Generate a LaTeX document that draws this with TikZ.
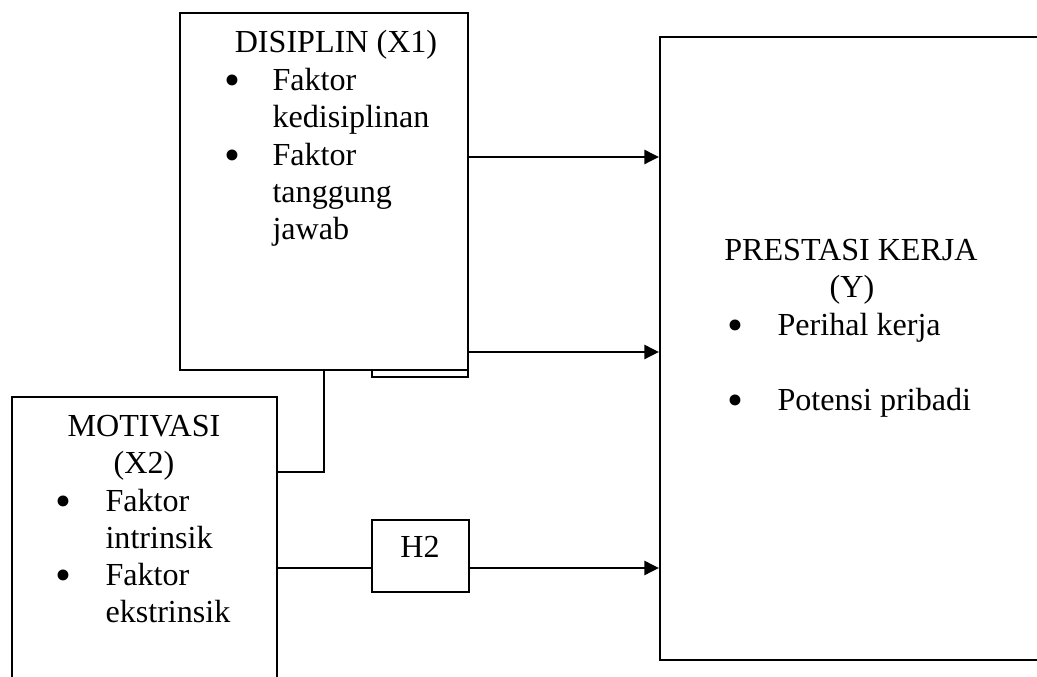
\documentclass[tikz,border=0pt]{standalone}
\usepackage{fontspec}
\setmainfont{Liberation Serif}
\usetikzlibrary{arrows.meta, fit}

\newcommand{\blt}{\raisebox{-1.5pt}{\fontsize{17}{14}\selectfont\textbullet}}

\tikzset{
  box/.style={draw, line width=0.75pt, inner sep=0pt},
  txt/.style={inner sep=0pt, font=\fontsize{12}{14}\selectfont},
  link/.style={line width=1.1pt},
  arrow/.style={link, -{Triangle[length=5.5pt,width=5.2pt]}}
}

\begin{document}
\begin{tikzpicture}[x=0.3738pt, y=-0.3738pt]
\useasboundingbox (0,0) rectangle (1037,677);
\clip (0,0) rectangle (1037,677);

% boxes
\node[box, fit={(180,13) (468,370)}] (disiplin) {};
\node[box, fit={(12,397) (277,700)}] (motivasi) {};
\node[box, fit={(660,37) (1060,660)}] (prestasi) {};
\node[box, fit={(372,520) (469,592)}] (h2) {};
\draw[line width=0.75pt] (372,370) rectangle (468,377);

% disiplin
\node[txt, anchor=base] (dtitle) at (336,53) {DISIPLIN (X1)};
\node[txt, anchor=base] (db1) at (232,91) {\blt};
\node[txt, anchor=base west] (d1) at (272,91) {Faktor};
\node[txt, anchor=base west] (d2) at (272,128) {kedisiplinan};
\node[txt, anchor=base] (db2) at (232,166) {\blt};
\node[txt, anchor=base west] (d3) at (272,166) {Faktor};
\node[txt, anchor=base west] (d4) at (272,203) {tanggung};
\node[txt, anchor=base west] (d5) at (272,240) {jawab};

% motivasi
\node[txt, anchor=base] (mtitle) at (144,437) {MOTIVASI};
\node[txt, anchor=base] (mtitle2) at (144,474) {(X2)};
\node[txt, anchor=base] (mb1) at (63,512) {\blt};
\node[txt, anchor=base west] (m1) at (105,512) {Faktor};
\node[txt, anchor=base west] (m2) at (105,549) {intrinsik};
\node[txt, anchor=base] (mb2) at (63,586) {\blt};
\node[txt, anchor=base west] (m3) at (105,586) {Faktor};
\node[txt, anchor=base west] (m4) at (105,623) {ekstrinsik};

% prestasi
\node[txt, anchor=base] (ptitle) at (851,261) {PRESTASI KERJA};
\node[txt, anchor=base] (ptitle2) at (852,298) {(Y)};
\node[txt, anchor=base] (pb1) at (735,336) {\blt};
\node[txt, anchor=base west] (p1) at (777,336) {Perihal kerja};
\node[txt, anchor=base] (pb2) at (735,411) {\blt};
\node[txt, anchor=base west] (p2) at (777,411) {Potensi pribadi};

\node[txt, anchor=base] (htext) at (420,558) {H2};

% connectors
\draw[arrow] (disiplin.east |- 0,157) -- (prestasi.west |- 0,157);
\draw[arrow] (disiplin.east |- 0,352) -- (prestasi.west |- 0,352);
\draw[line width=0.75pt] (disiplin.south) |- (motivasi.east |- 0,472);
\draw[link] (motivasi.east |- 0,568) -- (h2.west |- 0,568);
\draw[arrow] (h2.east |- 0,568) -- (prestasi.west |- 0,568);

\end{tikzpicture}
\end{document}
